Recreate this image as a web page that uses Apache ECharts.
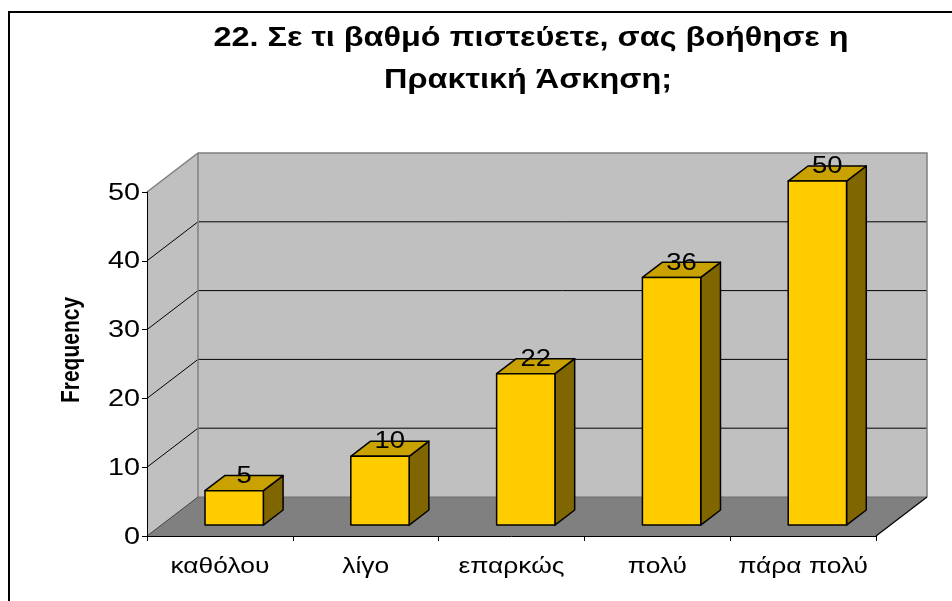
<!DOCTYPE html>
<html>
<head>
<meta charset="utf-8">
<script src="https://cdn.jsdelivr.net/npm/echarts@6/dist/echarts.min.js"></script>
<style>
  html, body { margin: 0; padding: 0; background: #fff; }
  #chart { width: 952px; height: 601px; }
</style>
</head>
<body>
<div id="chart"></div>
<script>
// Survey answers and their frequencies
const categories = ['καθόλου', 'λίγο', 'επαρκώς', 'πολύ', 'πάρα πολύ'];
const frequencies = [5, 10, 22, 36, 50];
const yTicks = [0, 10, 20, 30, 40, 50];
const titleLines = ['22. Σε τι βαθμό πιστεύετε, σας βοήθησε η', 'Πρακτική Άσκηση;'];
const yAxisName = 'Frequency';

// Oblique depth of the 3D box (pixels from front plane to back wall)
const DEPTH = [51, -39];
// Bars sit between these fractions of the depth
const BAR_FRONT = 0.28;
const BAR_BACK = 0.667;
const BAR_WIDTH = 0.4; // fraction of the category band
// Text in this chart is drawn slightly wide
const TEXT_STRETCH = 1.2;

const FONT = '"Liberation Sans", Arial, Helvetica, sans-serif';

const chart = echarts.init(document.getElementById('chart'), null, { renderer: 'canvas' });

function renderFrame(params, api) {
  const cs = params.coordSys;
  const gx = cs.x, gw = cs.width;
  const yMin = api.coord([0, yTicks[0]])[1];
  const yMax = api.coord([0, yTicks[yTicks.length - 1]])[1];
  const dx = DEPTH[0], dy = DEPTH[1];
  const children = [];
  // left side wall
  children.push({ type: 'polygon', shape: { points: [[gx, yMax], [gx + dx, yMax + dy], [gx + dx, yMin + dy], [gx, yMin]] },
    style: { fill: '#c0c0c0' } });
  // back wall
  children.push({ type: 'polygon', shape: { points: [[gx + dx, yMax + dy], [gx + gw + dx, yMax + dy], [gx + gw + dx, yMin + dy], [gx + dx, yMin + dy]] },
    style: { fill: '#c0c0c0' } });
  // floor
  children.push({ type: 'polygon', shape: { points: [[gx, yMin], [gx + dx, yMin + dy], [gx + gw + dx, yMin + dy], [gx + gw, yMin]] },
    style: { fill: '#808080' } });
  // gridlines wrapping the side wall and the back wall
  yTicks.slice(1, -1).forEach(function (v) {
    const y = api.coord([0, v])[1];
    children.push({ type: 'polyline', shape: { points: [[gx, y], [gx + dx, y + dy], [gx + gw + dx, y + dy]] },
      style: { stroke: '#000', lineWidth: 1, fill: null } });
  });
  // wall outlines
  const edge = { stroke: '#808080', lineWidth: 1.5, fill: null };
  children.push({ type: 'polyline', shape: { points: [[gx, yMax], [gx + dx, yMax + dy], [gx + gw + dx, yMax + dy], [gx + gw + dx, yMin + dy]] }, style: edge });
  children.push({ type: 'line', shape: { x1: gx + dx, y1: yMax + dy, x2: gx + dx, y2: yMin + dy }, style: edge });
  children.push({ type: 'line', shape: { x1: gx + dx, y1: yMin + dy, x2: gx + gw + dx, y2: yMin + dy }, style: { stroke: '#6e6e6e', lineWidth: 1 } });
  children.push({ type: 'line', shape: { x1: gx, y1: yMin, x2: gx + dx, y2: yMin + dy }, style: { stroke: '#404040', lineWidth: 1 } });
  children.push({ type: 'line', shape: { x1: gx + gw, y1: yMin, x2: gx + gw + dx, y2: yMin + dy }, style: { stroke: '#000', lineWidth: 1.2 } });

  // value-axis tick labels
  yTicks.forEach(function (v) {
    const y = api.coord([0, v])[1];
    children.push({ type: 'text', x: gx - 7, y: y + 1, scaleX: TEXT_STRETCH,
      style: { text: String(v), font: '24px ' + FONT, fill: '#000', align: 'right', verticalAlign: 'middle' } });
  });
  // category labels
  categories.forEach(function (c, i) {
    const p = api.coord([i, 0]);
    children.push({ type: 'text', x: p[0], y: yMin + 31, scaleX: TEXT_STRETCH,
      style: { text: c, font: '22px ' + FONT, fill: '#000', align: 'center', verticalAlign: 'middle' } });
  });
  // axis title
  children.push({ type: 'text', x: 72, y: 350, rotation: Math.PI / 2, scaleY: TEXT_STRETCH,
    style: { text: yAxisName, font: 'bold 21px ' + FONT, fill: '#000', align: 'center', verticalAlign: 'middle' } });
  return { type: 'group', children: children };
}

function renderBar(params, api) {
  const idx = api.value(0);
  const val = api.value(1);
  const base = api.coord([idx, 0]);
  const top = api.coord([idx, val]);
  const band = api.size([1, 0])[0];
  const half = band * BAR_WIDTH / 2;
  const fx = DEPTH[0] * BAR_FRONT, fy = DEPTH[1] * BAR_FRONT;
  const bx = DEPTH[0] * BAR_BACK, by = DEPTH[1] * BAR_BACK;
  const xl = base[0] - half + fx, xr = base[0] + half + fx;
  const yb = base[1] + fy, yt = top[1] + fy;
  const ddx = bx - fx, ddy = by - fy;
  const stroke = { stroke: '#000', lineWidth: 1.5, lineJoin: 'round' };
  const mx = base[0] + (fx + bx) / 2;
  const my = top[1] + (fy + by) / 2;
  return {
    type: 'group',
    children: [
      { type: 'polygon', shape: { points: [[xr, yt], [xr + ddx, yt + ddy], [xr + ddx, yb + ddy], [xr, yb]] },
        style: Object.assign({ fill: '#806600' }, stroke) },
      { type: 'polygon', shape: { points: [[xl, yt], [xr, yt], [xr + ddx, yt + ddy], [xl + ddx, yt + ddy]] },
        style: Object.assign({ fill: '#c9a200' }, stroke) },
      { type: 'rect', shape: { x: xl, y: yt, width: xr - xl, height: yb - yt },
        style: Object.assign({ fill: '#ffcc00' }, stroke) },
      { type: 'text', x: mx, y: my - 7, scaleX: 1.12,
        style: { text: String(val), font: '24.5px ' + FONT, fill: '#000', align: 'center', verticalAlign: 'middle' } }
    ]
  };
}

const option = {
  backgroundColor: '#fff',
  animation: false,
  grid: { left: 147, right: 76, top: 192, bottom: 65, containLabel: false },
  xAxis: {
    type: 'category',
    data: categories,
    boundaryGap: true,
    axisLine: { show: true, lineStyle: { color: '#000', width: 1 } },
    axisTick: { show: true, length: 5, lineStyle: { color: '#000' } },
    axisLabel: { show: false },
    splitLine: { show: false }
  },
  yAxis: {
    type: 'value',
    min: 0, max: 50, interval: 10,
    axisLine: { show: true, lineStyle: { color: '#000', width: 1 } },
    axisTick: { show: true, length: 5, lineStyle: { color: '#000' } },
    axisLabel: { show: false },
    splitLine: { show: false }
  },
  graphic: [
    { type: 'rect', shape: { x: 9, y: 12, width: 960, height: 620 }, style: { fill: null, stroke: '#000', lineWidth: 2 }, z: 100 },
    { type: 'text', x: 531, y: 39, scaleX: TEXT_STRETCH, style: { text: titleLines[0], font: 'bold 27px ' + FONT, fill: '#000', align: 'center', verticalAlign: 'middle' } },
    { type: 'text', x: 528, y: 81, scaleX: TEXT_STRETCH, style: { text: titleLines[1], font: 'bold 27px ' + FONT, fill: '#000', align: 'center', verticalAlign: 'middle' } }
  ],
  series: [
    { type: 'custom', name: 'frame', z: -1, renderItem: renderFrame, data: [[0, 0]], silent: true },
    { type: 'custom', name: 'Frequency', z: 3, renderItem: renderBar, silent: true,
      data: frequencies.map(function (v, i) { return [i, v]; }) }
  ]
};

chart.setOption(option);
</script>
</body>
</html>
